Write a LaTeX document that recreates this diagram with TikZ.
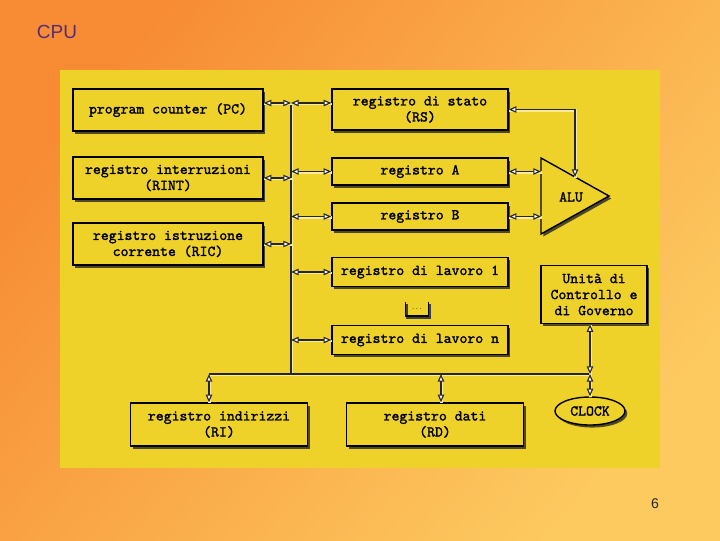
\documentclass[tikz,border=0pt]{standalone}
\usepackage{fontspec}
\setmainfont{Liberation Sans}
\newfontfamily\regfont{Latin Modern Mono}[FakeBold=1.6]
\usetikzlibrary{arrows.meta,shapes.geometric,shadows,calc}

\definecolor{panel}{RGB}{238,210,42}
\definecolor{bgTL}{RGB}{247,140,52}
\definecolor{bgBR}{RGB}{253,202,96}
\definecolor{titlecol}{RGB}{86,44,122}

\tikzset{
  reg/.style={draw=black, line width=1pt, fill=panel, align=center,
    inner sep=0pt, font=\regfont\fontsize{10.7}{11.4}\selectfont,
    drop shadow={shadow xshift=1.6pt, shadow yshift=-1.8pt, opacity=.8, fill=black!85}},
  link/.style={<->, line width=0.9pt, draw=black!85,
    preaction={draw=white!55!panel, line width=1.8pt, arrows=-,
      transform canvas={shift={(0.5pt,-0.7pt)}}}},
  bus/.style={line width=0.9pt, draw=black!85,
    preaction={draw=white!55!panel, line width=1.8pt,
      transform canvas={shift={(0.5pt,-0.7pt)}}}},
}

\begin{document}
\begin{tikzpicture}[x=0.025cm, y=-0.025cm,
    >={Triangle[open, fill=white, length=5.5pt, width=4.6pt, line width=0.8pt]}]
  \useasboundingbox (0,0) rectangle (720,540);
  \shade[top color=bgTL, bottom color=bgBR, shading angle=50]
    (0,0) rectangle (720,540);
  \fill[panel] (60,70) rectangle (660,468);

  \node[font=\fontsize{13.5}{16}\selectfont, text=titlecol] (title) at (57,32) {CPU};
  \node[font=\fontsize{10}{12}\selectfont, text=black!85] (page) at (655,504) {6};

  % left column
  \node[reg, minimum width=4.75cm, minimum height=1.05cm] (pc) at (168,110) {program counter (PC)};
  \node[reg, minimum width=4.75cm, minimum height=1.05cm] (rint) at (168,178) {registro interruzioni\\(RINT)};
  \node[reg, minimum width=4.75cm, minimum height=1.05cm] (ric) at (168,244) {registro istruzione\\corrente (RIC)};

  % right column
  \node[reg, minimum width=4.4cm, minimum height=1.025cm] (rs) at (420,109.5) {registro di stato\\(RS)};
  \node[reg, minimum width=4.4cm, minimum height=0.675cm] (rega) at (420,171.5) {registro A};
  \node[reg, minimum width=4.4cm, minimum height=0.675cm] (regb) at (420,216.5) {registro B};
  \node[reg, minimum width=4.4cm, minimum height=0.725cm] (lav1) at (420,272) {registro di lavoro 1};
  \node[font=\ttfamily\fontsize{5}{6}\selectfont, inner sep=0pt, minimum width=0.55cm, minimum height=0.33cm] (dots) at (417,309) {...};
  \draw[line width=1.6pt, black!75] ([xshift=1pt, yshift=-1.3pt]dots.north west) -- ([xshift=1pt, yshift=-1.3pt]dots.south west)
    -- ([xshift=1pt, yshift=-1.3pt]dots.south east) -- ([xshift=1pt, yshift=-1.3pt]dots.north east);
  \draw[line width=0.9pt] (dots.north west) -- (dots.south west) -- (dots.south east) -- (dots.north east);
  \node[reg, minimum width=4.4cm, minimum height=0.725cm] (lavn) at (420,340) {registro di lavoro n};

  % ALU
  \coordinate (aluT) at (541,158);
  \coordinate (aluB) at (541,234);
  \coordinate (aluP) at (609,196);
  \filldraw[fill=panel, line width=1pt, drop shadow={shadow xshift=1.6pt, shadow yshift=-1.8pt, opacity=.8, fill=black!85}]
    (aluT) -- (aluP) -- (aluB) -- cycle;
  \node[font=\regfont\fontsize{10.7}{11.4}\selectfont] (alu) at (571,197) {ALU};

  \node[reg, minimum width=2.65cm, minimum height=1.45cm] (unita) at (594,294.5) {Unità di\\Controllo e\\di Governo};
  \node[reg, ellipse, minimum width=1.75cm, minimum height=0.7cm] (clock) at (590,411) {CLOCK};

  % bottom row
  \node[reg, minimum width=4.425cm, minimum height=1.075cm] (ri) at (219,424.5) {registro indirizzi\\(RI)};
  \node[reg, minimum width=4.425cm, minimum height=1.075cm] (rd) at (435,424.5) {registro dati\\(RD)};

  % buses
  \coordinate (busT) at (291,103);
  \coordinate (busB) at (291,374);
  \coordinate (busL) at (209,374);
  \coordinate (busR) at (590,374);
  \coordinate (busD) at (441,374);
  \draw[bus] (busT) -- (busB);
  \draw[bus] (busL) -- (busR);

  \draw[link] (pc.east |- busT) -- (busT);
  \draw[link] (busT) -- (rs.west |- busT);
  \draw[link] (rint.east) -- (rint.east -| busT);
  \draw[link] (ric.east) -- (ric.east -| busT);
  \draw[link] (rega.west -| busT) -- (rega.west);
  \draw[link] (regb.west -| busT) -- (regb.west);
  \draw[link] (lav1.west -| busT) -- (lav1.west);
  \draw[link] (lavn.west -| busT) -- (lavn.west);

  \draw[link] (rega.east) -- (rega.east -| aluT);
  \draw[link] (regb.east) -- (regb.east -| aluT);
  \draw[link] (rs.east) -| ($(aluT)!0.5!(aluP)$);

  \draw[link] (unita.south -| busR) -- (busR);
  \draw[link] (busR) -- (clock.north);
  \draw[link] (busL) -- (ri.north -| busL);
  \draw[link] (busD) -- (rd.north -| busD);
\end{tikzpicture}
\end{document}
